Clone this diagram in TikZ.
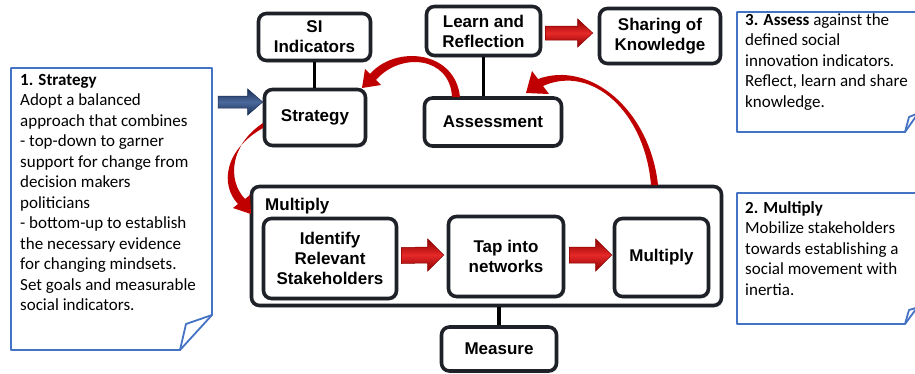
\documentclass[tikz,border=0pt]{standalone}
\usepackage{fontspec}
\setmainfont{Carlito}
\newfontfamily\boxfam{Liberation Sans}
\usetikzlibrary{calc,shadows}
\definecolor{boxline}{RGB}{30,33,40}
\definecolor{notec}{RGB}{68,114,196}
\definecolor{arrred}{RGB}{192,0,0}
\definecolor{reddark}{RGB}{140,0,0}
\definecolor{redlight}{RGB}{230,40,40}
\definecolor{bluedark}{RGB}{25,45,85}
\definecolor{bluelight}{RGB}{75,105,155}
\newcommand\blockarr[6]{%
  \path[#6] ($(#1)+(0,-#3)$) -- ($(#2)+(-#5,-#3)$) -- ($(#2)+(-#5,-#4)$) -- (#2)
    -- ($(#2)+(-#5,#4)$) -- ($(#2)+(-#5,#3)$) -- ($(#1)+(0,#3)$) -- cycle;}
\begin{document}
\begin{tikzpicture}[x=1pt,y=-1pt,
  box/.style={draw=boxline, line width=3.6pt, rounded corners=8pt, fill=white,
    align=center, inner sep=0pt, text=black,
    font=\boxfam\bfseries\fontsize{17}{20}\selectfont,
    drop shadow={shadow xshift=1.5pt, shadow yshift=-2pt, opacity=0.3}},
  note/.style={draw=notec, line width=1.8pt, line join=round},
  notetext/.style={anchor=north west, inner sep=0pt, align=left, text=black,
    font=\fontsize{17}{20.5}\selectfont},
  conn/.style={draw=black, line width=3.5pt},
  redblock/.style={draw=reddark, line width=0.5pt, top color=reddark, bottom color=reddark, middle color=redlight},
  blueblock/.style={draw=bluedark, line width=0.5pt, top color=bluedark, bottom color=bluedark, middle color=bluelight},
  curvearr/.style={fill=arrred}]
\useasboundingbox (0,0) rectangle (915,373);
\fill[white] (0,0) rectangle (915,373);

% notes
\draw[note] (11,68) -- (212,68) -- (212,315) -- (180,350) -- (11,350) -- cycle;
\draw[note] (180,350) -- (186,324) -- (212,315);
\node[notetext] (n1) at (20,74) {\textbf{1. Strategy}\\Adopt a balanced\\approach that combines\\- top-down to garner\\support for change from\\decision makers\\politicians\\- bottom-up to establish\\the necessary evidence\\for changing mindsets.\\Set goals and measurable\\social indicators.};

\draw[note] (737,12) -- (919,12) -- (919,112) -- (905,132) -- (737,132) -- cycle;
\draw[note] (905,132) -- (909,117) -- (919,113);
\node[notetext] (n3) at (745,13) {\textbf{3. Assess} against the\\defined social\\innovation indicators.\\Reflect, learn and share\\knowledge.};

\draw[note] (737,193) -- (919,193) -- (919,305) -- (905,324) -- (737,324) -- cycle;
\draw[note] (905,324) -- (909,310) -- (919,307);
\node[notetext] (n2) at (745,201) {\textbf{2. Multiply}\\Mobilize stakeholders\\towards establishing a\\social movement with\\inertia.};

% boxes
\node[box, minimum width=112pt, minimum height=47pt] (si) at (314.5,37) {SI\\Indicators};
\node[box, minimum width=101pt, minimum height=56pt] (strat) at (315,117.5) {Strategy};
\node[box, minimum width=114pt, minimum height=49pt] (learn) at (483.5,31) {Learn and\\Reflection};
\node[box, minimum width=137pt, minimum height=48pt] (assess) at (493,122) {Assessment};
\node[box, minimum width=121pt, minimum height=55pt] (share) at (660,36) {Sharing of\\Knowledge};
\node[box, minimum width=470pt, minimum height=119pt] (mult) at (486.5,246) {};
\node[anchor=west, inner sep=0pt, font=\boxfam\bfseries\fontsize{17}{20}\selectfont] (multlbl) at (265,206) {Multiply};
\node[box, minimum width=133pt, minimum height=80pt] (ident) at (330,258.5) {Identify\\Relevant\\Stakeholders};
\node[box, minimum width=115pt, minimum height=80pt] (tap) at (506,256.5) {Tap into\\networks};
\node[box, minimum width=94pt, minimum height=78pt] (multi) at (661.5,257.5) {Multiply};
\node[box, minimum width=115pt, minimum height=44pt] (measure) at (499,349) {Measure};

% straight connectors
\draw[conn] (si.south) -- (si.south |- strat.north);
\draw[conn] (learn.south) -- (learn.south |- assess.north);
\draw[conn] (measure.north) -- (measure.north |- mult.south);

% block arrows
\coordinate (a1s) at ($(learn.east)+(3,2)$);
\coordinate (a1e) at ($(share.west)+(-5,-3)$);
\blockarr{a1s}{a1e}{7}{14}{15}{redblock}
\coordinate (a2s) at ($(ident.east)+(3,-3)$);
\coordinate (a2e) at ($(tap.west)+(-3,-1.5)$);
\blockarr{a2s}{a2e}{8}{16}{16}{redblock}
\coordinate (a3s) at ($(tap.east)+(4,-1.5)$);
\coordinate (a3e) at ($(multi.west)+(-1,-2.5)$);
\blockarr{a3s}{a3e}{8}{16}{16}{redblock}
\coordinate (b1s) at (218,102);
\coordinate (b1e) at ($(strat.west)+(0,-15.5)$);
\blockarr{b1s}{b1e}{6}{13}{15}{blueblock}

% curved arrows
% Assessment -> Strategy
\fill[curvearr] (460,97) .. controls (455,50) and (395,45) .. (370,74) -- (365,69) -- (362,88) -- (381,85) -- (376,80) .. controls (400,52) and (450,56) .. (452,97) -- cycle;
% Strategy -> Multiply box
\fill[curvearr] (263,123) .. controls (230,145) and (227,180) .. (245,199) -- (250,195) -- (251,214) -- (233,208) -- (238,204) .. controls (220,185) and (224,150) .. (263,128) -- cycle;
% Multiply box -> Assessment
\fill[curvearr] (651,185) .. controls (645,112) and (592,64) .. (543,86) -- (549,94) -- (526,93) -- (532,71) -- (538,79) .. controls (590,60) and (650,110) .. (658,185) -- cycle;
\end{tikzpicture}
\end{document}
